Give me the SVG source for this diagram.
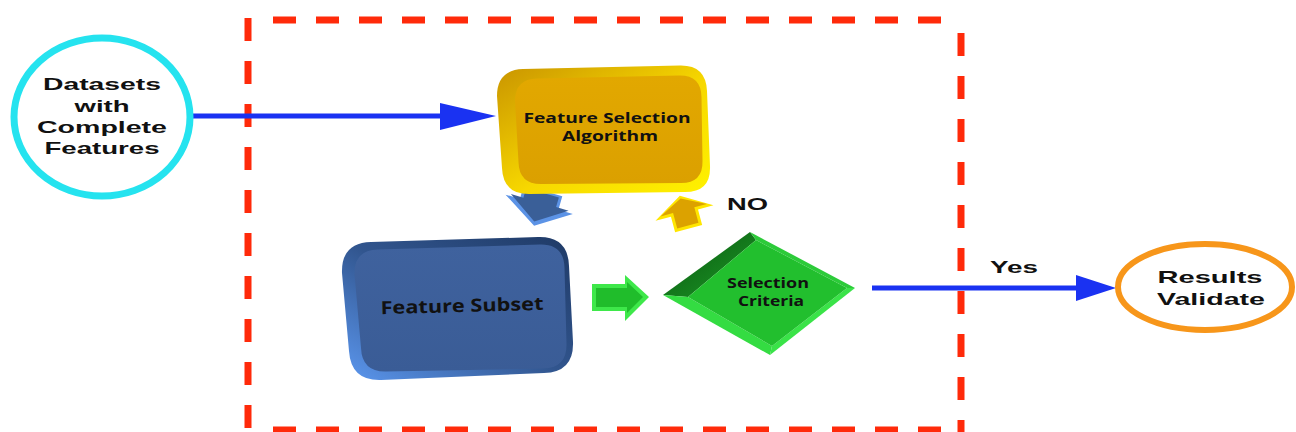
<svg xmlns="http://www.w3.org/2000/svg" width="1296" height="432" viewBox="0 0 1296 432">
  <defs>
    <linearGradient id="gold-rim" x1="0" y1="0" x2="1" y2="1">
      <stop offset="0" stop-color="#c99400"/>
      <stop offset="0.55" stop-color="#f7d800"/>
      <stop offset="1" stop-color="#fff200"/>
    </linearGradient>
    <linearGradient id="gold-face" x1="0" y1="0" x2="0" y2="1">
      <stop offset="0" stop-color="#e2a800"/>
      <stop offset="1" stop-color="#dba000"/>
    </linearGradient>
    <linearGradient id="blue-rim" x1="1" y1="0" x2="0" y2="1">
      <stop offset="0" stop-color="#1f3a66"/>
      <stop offset="0.5" stop-color="#31558e"/>
      <stop offset="1" stop-color="#5c98f0"/>
    </linearGradient>
    <linearGradient id="blue-face" x1="0" y1="0" x2="0" y2="1">
      <stop offset="0" stop-color="#3f629e"/>
      <stop offset="1" stop-color="#3a5c96"/>
    </linearGradient>
    <linearGradient id="green-dark" x1="0" y1="0" x2="1" y2="1">
      <stop offset="0" stop-color="#0a5410"/>
      <stop offset="1" stop-color="#1c9a26"/>
    </linearGradient>
    <style>
      .frame { stroke: #ff2a0a; stroke-width: 7; fill: none; stroke-dasharray: 23 20; }
      .flow { stroke: #1a32f2; stroke-width: 5; fill: none; }
      .head { fill: #1a32f2; }
      .sans { font-family: "Liberation Sans", Arial, sans-serif; font-weight: 700; fill: #111; }
      .cal { font-family: "Open Sans", "Liberation Sans", sans-serif; font-weight: 700; fill: #111; }
    </style>
  </defs>

  <!-- dashed boundary of the selection loop -->
  <g id="boundary">
    <line class="frame" x1="248" y1="18" x2="248" y2="432"/>
    <line class="frame" x1="273" y1="20" x2="956" y2="20"/>
    <line class="frame" x1="961" y1="33" x2="961" y2="432"/>
    <line class="frame" x1="273" y1="430" x2="956" y2="430"/>
  </g>

  <!-- connectors -->
  <g id="connectors">
    <line class="flow" x1="191" y1="116" x2="444" y2="116"/>
    <polygon class="head" points="440,103 496,116 440,130"/>
    <line class="flow" x1="872" y1="288" x2="1080" y2="288"/>
    <polygon class="head" points="1076,275 1116,288 1076,301"/>

    <!-- block arrow: algorithm to subset -->
    <g transform="translate(537,212) rotate(16)">
      <polygon points="-20,-22 20,-22 20,-8 35,-8 1,14 -35,-8 -20,-8" fill="#5c93e6"/>
      <polygon points="-17,-20 17,-20 17,-10 30,-10 0,10 -30,-10 -17,-10" fill="#3a5f98"/>
    </g>
    <!-- block arrow: subset to criteria -->
    <polygon points="592,284 625,284 625,275 649,297 625,321 625,311 592,311" fill="#3ee84a"/>
    <polygon points="596,288 627,288 627,282 643,297 627,313 627,307 596,307" fill="#20bd2b"/>
    <!-- block arrow: criteria back to algorithm -->
    <g transform="translate(685,215) rotate(-15)">
      <polygon points="-14,14 14,14 14,-2 30,-2 0,-20 -30,-2 -14,-2" fill="#ffe600"/>
      <polygon points="-11,11 11,11 11,-5 24,-5 0,-17 -24,-5 -11,-5" fill="#dca200"/>
    </g>
    <text class="sans" x="727" y="210" font-size="17" textLength="41" lengthAdjust="spacingAndGlyphs">NO</text>
    <text class="sans" x="990" y="273" font-size="17" textLength="48" lengthAdjust="spacingAndGlyphs">Yes</text>
  </g>

  <!-- input datasets -->
  <g id="datasets">
    <ellipse cx="102" cy="117" rx="88" ry="79" fill="#fff" stroke="#25e3ef" stroke-width="7"/>
    <text class="sans" x="102" y="90" font-size="17" text-anchor="middle" textLength="118" lengthAdjust="spacingAndGlyphs">Datasets</text>
    <text class="sans" x="102" y="112" font-size="17" text-anchor="middle" textLength="55" lengthAdjust="spacingAndGlyphs">with</text>
    <text class="sans" x="102" y="133" font-size="17" text-anchor="middle" textLength="130" lengthAdjust="spacingAndGlyphs">Complete</text>
    <text class="sans" x="102" y="154" font-size="17" text-anchor="middle" textLength="115" lengthAdjust="spacingAndGlyphs">Features</text>
  </g>

  <!-- feature selection algorithm -->
  <g id="algorithm">
    <path d="M 523,69 L 680,65.5 Q 706,65 707,91 L 710,166 Q 711,192 685,192 L 529,194 Q 503,194 502,168 L 497,96 Q 497,70 523,69 Z" fill="url(#gold-rim)"/>
    <path d="M 537,78.5 L 679,75.5 Q 701,75 701.5,97 L 702.5,161 Q 703,183 681,183 L 541,184 Q 519,184 518.5,162 L 515,101 Q 515,79 537,78.5 Z" fill="url(#gold-face)"/>
    <text class="cal" x="607" y="123" font-size="14" text-anchor="middle" textLength="167" lengthAdjust="spacingAndGlyphs">Feature Selection</text>
    <text class="cal" x="610" y="141" font-size="14" text-anchor="middle" textLength="96" lengthAdjust="spacingAndGlyphs">Algorithm</text>
  </g>

  <!-- feature subset -->
  <g id="subset">
    <path d="M 371,242 L 538,237 Q 568,236 569,266 L 573,342 Q 574,372 544,373 L 381,380 Q 351,381 349,351 L 342,273 Q 341,243 371,242 Z" fill="url(#blue-rim)"/>
    <path d="M 378,249.5 L 540,244.5 Q 564,244 564.5,268 L 566.5,344 Q 567,368 543,368.5 L 386,371.5 Q 362,372 361,348 L 354.5,274 Q 354,250 378,249.5 Z" fill="url(#blue-face)"/>
    <text class="cal" x="462" y="312" font-size="18" text-anchor="middle" textLength="163" lengthAdjust="spacingAndGlyphs" transform="rotate(-1.5 462 306)">Feature Subset</text>
  </g>

  <!-- selection criteria decision -->
  <g id="criteria">
    <polygon points="663,295 750,232 756,240 688,297" fill="url(#green-dark)"/>
    <polygon points="750,232 855,288 847,288 756,240" fill="#2ccb39"/>
    <polygon points="855,288 770,355 772,346 847,288" fill="#3ae348"/>
    <polygon points="770,355 663,295 688,297 772,346" fill="#34dc42"/>
    <polygon points="688,297 756,240 847,288 772,346" fill="#22bf2e"/>
    <text class="cal" x="768" y="288" font-size="14" text-anchor="middle" textLength="82" lengthAdjust="spacingAndGlyphs">Selection</text>
    <text class="cal" x="771" y="306" font-size="14" text-anchor="middle" textLength="66" lengthAdjust="spacingAndGlyphs">Criteria</text>
  </g>

  <!-- validation -->
  <g id="validate">
    <ellipse cx="1205" cy="287" rx="87" ry="43" fill="#fff" stroke="#f7961a" stroke-width="6"/>
    <text class="sans" x="1210" y="283" font-size="17" text-anchor="middle" textLength="105" lengthAdjust="spacingAndGlyphs">Results</text>
    <text class="sans" x="1211" y="305" font-size="17" text-anchor="middle" textLength="108" lengthAdjust="spacingAndGlyphs">Validate</text>
  </g>
</svg>
